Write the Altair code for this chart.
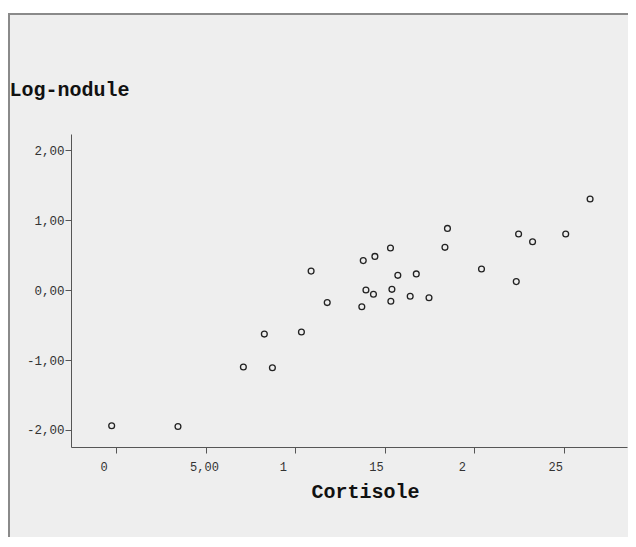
import altair as alt
import pandas as pd

# data
cortisole = [-0.24, 3.46, 7.11, 8.73, 8.28, 10.35, 10.89, 11.79, 13.80, 13.95,
             13.72, 14.45, 15.32, 18.50, 18.36, 14.37, 15.73, 16.76, 15.40, 16.42,
             17.47, 15.34, 20.40, 22.34, 22.47, 23.25, 25.10, 26.46]
log_nodule = [-1.94, -1.95, -1.10, -1.11, -0.63, -0.60, 0.27, -0.18, 0.42, 0.00,
              -0.24, 0.48, 0.60, 0.88, 0.61, -0.06, 0.21, 0.23, 0.01, -0.09,
              -0.11, -0.16, 0.30, 0.12, 0.80, 0.69, 0.80, 1.30]
x_ticks = [0, 5, 10, 15, 20, 25]
x_tick_labels = ["0", "5,00", "1", "15", "2", "25"]
y_ticks = [-2, -1, 0, 1, 2]
y_tick_labels = ["-2,00", "-1,00", "0,00", "1,00", "2,00"]

df = pd.DataFrame({"Cortisole": cortisole, "Log-nodule": log_nodule})


def label_expr(ticks, labels):
    expr = "''"
    for t, l in zip(ticks, labels):
        expr = f"datum.value == {t} ? '{l}' : ({expr})"
    return expr


MONO = "Liberation Mono"

panel = alt.Chart(alt.Data(values=[{}])).mark_rect(
    fill="#eeeeee", stroke="#8a8a8a", strokeWidth=2
).encode(
    x=alt.value(-62), x2=alt.value(620),
    y=alt.value(-120), y2=alt.value(520),
)

points = alt.Chart(df).mark_point(
    shape="circle", filled=False, size=34, stroke="#222222", strokeWidth=1.3, opacity=1
).encode(
    x=alt.X("Cortisole:Q",
            scale=alt.Scale(domain=[-2.51, 28.52], nice=False, zero=False),
            axis=alt.Axis(values=x_ticks, labelExpr=label_expr(x_ticks, x_tick_labels),
                          grid=False, zindex=1, domainColor="#555555", tickColor="#555555",
                          tickSize=6, labelFont=MONO, labelFontSize=12, labelColor="#333333",
                          labelAlign="left", labelOffset=-16, labelPadding=8,
                          labelBaseline="top",
                          title="Cortisole", titleFont=MONO, titleFontSize=20,
                          titleFontWeight="bold", titleColor="#111111",
                          titleX=294, titleY=44, titleAlign="center",
                          titleBaseline="middle", titleAnchor="start")),
    y=alt.Y("Log-nodule:Q",
            scale=alt.Scale(domain=[-2.243, 2.229], nice=False, zero=False),
            axis=alt.Axis(values=y_ticks, labelExpr=label_expr(y_ticks, y_tick_labels),
                          grid=False, zindex=1, domainColor="#555555", tickColor="#555555",
                          tickSize=6, labelFont=MONO, labelFontSize=12.5, labelColor="#333333",
                          labelPadding=1,
                          title="Log-nodule", titleFont=MONO, titleFontSize=20,
                          titleFontWeight="bold", titleColor="#111111",
                          titleAngle=0, titleX=-62, titleY=-45, titleAlign="left",
                          titleBaseline="middle", titleAnchor="start")),
)

chart = alt.layer(panel, points).properties(
    width=556, height=313,
    autosize=alt.AutoSizeParams(type="none"),
    padding={"left": 63, "top": 126, "right": 1, "bottom": 90},
    background="white",
).configure_view(stroke="transparent")

chart.save("out.html", embed_options={"renderer": "svg", "actions": False})
